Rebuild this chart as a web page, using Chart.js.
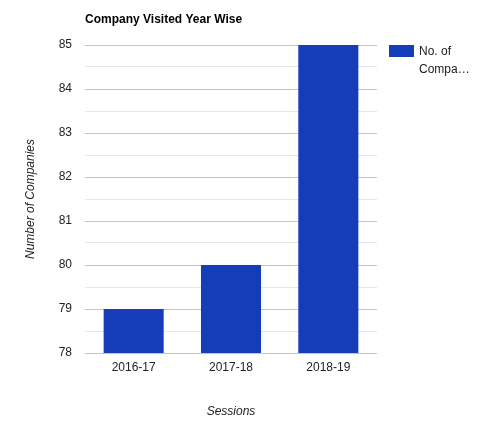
<!DOCTYPE html>
<html>
<head>
<meta charset="utf-8">
<script src="https://cdn.jsdelivr.net/npm/chart.js@4"></script>
<style>
html,body{margin:0;padding:0;background:#fff;}
#wrap{width:484px;height:425px;position:relative;}
</style>
</head>
<body>
<div id="wrap"><canvas id="chart"></canvas></div>
<script>
// Data
const sessions=['2016-17','2017-18','2018-19'];
const companies=[79,80,85];
const seriesName='No. of Companies';
const chartTitle='Company Visited Year Wise';

const FONT='Arial, "Liberation Sans", sans-serif';
const BAR='#163db9';

// title + wrapped legend drawn by hand (google-charts look)
const extras={
  id:'extras',
  afterDraw(chart){
    const ctx=chart.ctx, a=chart.chartArea;
    ctx.save();
    ctx.fillStyle='#000';
    ctx.font='bold 12px '+FONT;
    ctx.textBaseline='middle';
    ctx.textAlign='left';
    ctx.fillText(chartTitle,a.left,20);
    ctx.fillStyle=BAR;
    ctx.fillRect(a.right+12,a.top,25,12);
    ctx.fillStyle='#222';
    ctx.font='12px '+FONT;
    ctx.fillText('No. of',a.right+42,a.top+7);
    ctx.fillText('Compa…',a.right+42,a.top+25);
    ctx.restore();
  }
};

new Chart(document.getElementById('chart'),{
  type:'bar',
  data:{labels:sessions,datasets:[{label:seriesName,data:companies,backgroundColor:BAR,
    categoryPercentage:1,barPercentage:0.617}]},
  options:{
    responsive:true,maintainAspectRatio:false,animation:false,
    layout:{padding:{top:45,right:107,left:0,bottom:0}},
    plugins:{legend:{display:false},tooltip:{enabled:false}},
    scales:{
      x:{
        grid:{display:false,drawTicks:false},border:{display:false},
        ticks:{color:'#222',font:{family:FONT,size:12},padding:7},
        title:{display:true,text:'Sessions',color:'#222',font:{family:FONT,size:12,style:'italic'},padding:{top:28,bottom:6}},
        afterFit(s){s.height=72;}
      },
      y:{
        min:78,max:85,
        border:{display:false},
        grid:{
          color:c=>Number.isInteger(c.tick.value)?'#c4c4c4':'#e8e8e8',
          drawTicks:false
        },
        ticks:{stepSize:0.5,color:'#222',font:{family:FONT,size:12},padding:13,
          callback:v=>Number.isInteger(v)?v:''},
        title:{display:true,text:'Number of Companies',color:'#222',font:{family:FONT,size:12,style:'italic'},padding:{top:23,bottom:0}},
        afterFit(s){s.width=85;}
      }
    }
  },
  plugins:[extras]
});
</script>
</body>
</html>
